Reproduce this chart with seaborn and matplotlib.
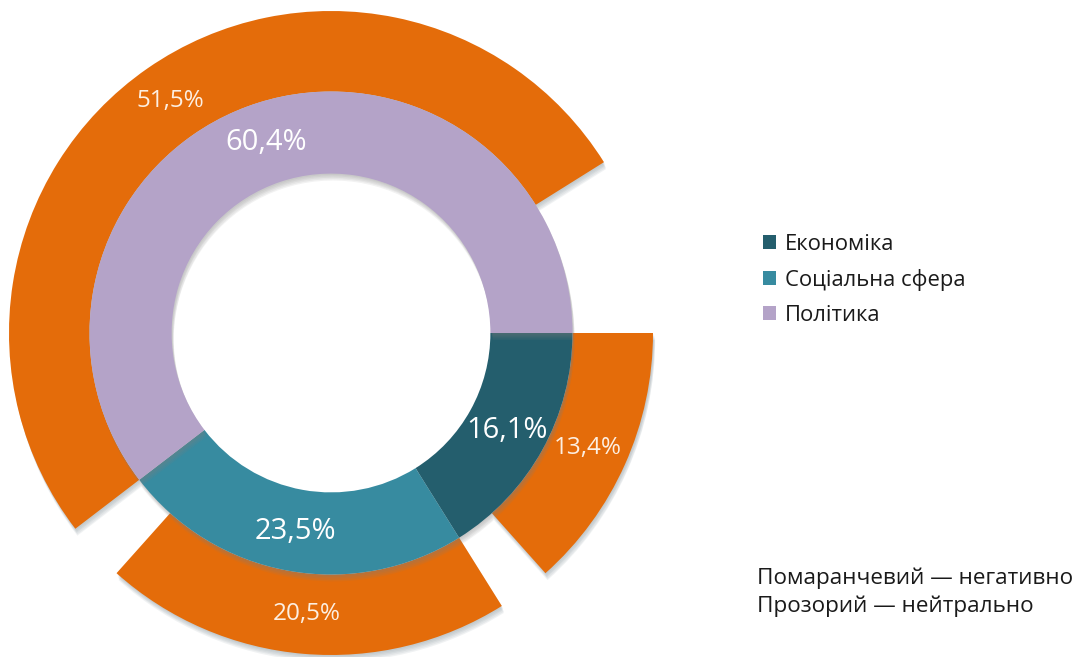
import numpy as np
import matplotlib
matplotlib.use("Agg")
import matplotlib.pyplot as plt
import matplotlib.patheffects as pe
from matplotlib.patches import Patch
import seaborn as sns

# Share of publications by topic (inner ring) and the negative part of each topic (outer ring)
categories = ["Економіка", "Соціальна сфера", "Політика"]
total_share = [16.1, 23.5, 60.4]
negative_share = [13.4, 20.5, 51.5]

topic_colors = ["#245E6D", "#378BA0", "#B4A3C8"]
negative_color = "#E46C0A"

note_lines = ["Помаранчевий — негативно", "Прозорий — нейтрально"]

sns.set_theme(style="white")
plt.rcParams["font.family"] = ["Open Sans", "DejaVu Sans"]

W, H, DPI = 1088, 657, 100
fig = plt.figure(figsize=(W / DPI, H / DPI), dpi=DPI)
fig.patch.set_facecolor("white")

# Square axes: radius 1 of the donut == 322 px, centred at (331, 333) px from top-left
R_PX = 322
cx, cy = 331, 333
ax = fig.add_axes([(cx - R_PX) / W, (H - cy - R_PX) / H, 2 * R_PX / W, 2 * R_PX / H])


def soft_shadow(color="#7d8c94", alpha=0.11):
    # a few stacked offsets give a soft, slightly blurred drop shadow
    layers = [pe.SimplePatchShadow(offset=(dx, dy), shadow_rgbFace=color, alpha=alpha)
              for dx, dy in [(0.5, -1), (1, -2), (1, -3), (1.5, -4), (1.5, -5)]]
    return layers + [pe.Normal()]


# Outer ring: negative part followed by the (transparent) neutral rest of each topic
outer_vals, outer_faces = [], []
for tot, neg in zip(total_share, negative_share):
    outer_vals += [neg, round(tot - neg, 1)]
    outer_faces += [negative_color, "none"]

outer_w, _ = ax.pie(outer_vals, radius=1.0, startangle=0, counterclock=False,
                    colors=outer_faces,
                    wedgeprops=dict(width=0.25, linewidth=0, edgecolor="none"))
for w, fc in zip(outer_w, outer_faces):
    if fc == "none":
        w.set_facecolor((1, 1, 1, 0))
    else:
        w.set_path_effects(soft_shadow())

inner_w, _ = ax.pie(total_share, radius=0.75, startangle=0, counterclock=False,
                    colors=topic_colors,
                    wedgeprops=dict(width=0.255, linewidth=0, edgecolor="none"))
for w in inner_w:
    w.set_path_effects(soft_shadow("#808080", 0.10))

ax.set_xlim(-1, 1)
ax.set_ylim(-1, 1)
ax.set_aspect("equal")
ax.axis("off")


def fmt(v):
    return f"{v:.1f}%".replace(".", ",")


def label_wedge(wedge, text, r, size, color):
    mid = np.deg2rad((wedge.theta1 + wedge.theta2) / 2)
    ax.text(r * np.cos(mid), r * np.sin(mid), text, ha="center", va="center",
            fontsize=size, color=color)


for w, v in zip(inner_w, total_share):
    label_wedge(w, fmt(v), 0.625, 21, "white")

neg_wedges = [w for w, fc in zip(outer_w, outer_faces) if fc != "none"]
for w, v in zip(neg_wedges, negative_share):
    label_wedge(w, fmt(v), 0.875, 17.5, "#FDEFE2")

handles = [Patch(facecolor=c, edgecolor="none") for c in topic_colors]
fig.legend(handles, categories, loc="upper left", bbox_to_anchor=(752 / W, 1 - 223 / H),
           frameon=False, fontsize=15.8, handlelength=0.6, handleheight=0.6,
           handletextpad=0.42, labelspacing=0.64, labelcolor="#1a1a1a", borderpad=0)

fig.text(757 / W, 1 - 578 / H, note_lines[0], ha="left", va="center", fontsize=16.2, color="#1a1a1a")
fig.text(757 / W, 1 - 606 / H, note_lines[1], ha="left", va="center", fontsize=16.2, color="#1a1a1a")

fig.savefig("out.png", dpi=DPI, facecolor="white")
